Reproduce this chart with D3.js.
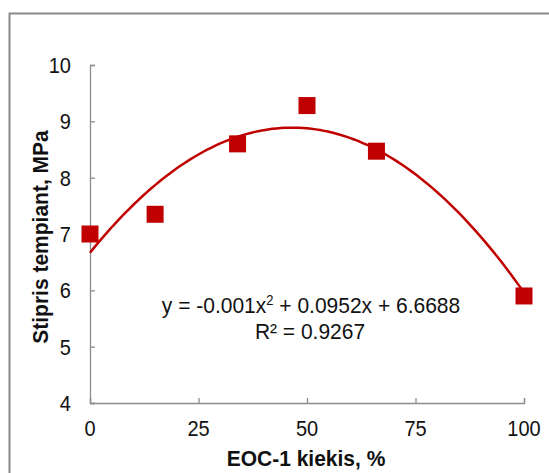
<!DOCTYPE html>
<html><head><meta charset="utf-8">
<script src="https://cdn.jsdelivr.net/npm/d3@7"></script>
<style>body{margin:0;background:#fff}svg{display:block}text{font-family:"Liberation Sans",Arial,sans-serif}</style>
</head><body><svg id="c" width="549" height="473"></svg>
<script>
const xValues = [0, 15, 34, 50, 66, 100];
const yValues = [7.0, 7.35, 8.6, 9.28, 8.47, 5.9];
const xTicks = [0, 25, 50, 75, 100];
const yTicks = [4, 5, 6, 7, 8, 9, 10];
const xTitle = "EOC-1 kiekis, %";
const yTitle = "Stipris tempiant, MPa";
const eqText = ["y = -0.001x", "2", " + 0.0952x + 6.6688"];
const r2Text = "R² = 0.9267";

const svg = d3.select("#c");
const x = d3.scaleLinear().domain([0, 100]).range([90, 524]);
const y = d3.scaleLinear().domain([4, 10]).range([403, 65]);
const axisCol = "#8c8c8c", red = "#c00000";
const SY = 1.06;

function txt(px, py, str, size, anchor, bold, rot) {
  return svg.append("text")
    .attr("transform", `translate(${px},${py})` + (rot ? ` rotate(${rot})` : "") + ` scale(1,${SY})`)
    .attr("text-anchor", anchor).attr("font-size", size)
    .attr("font-weight", bold ? "bold" : "normal").attr("fill", "#111").text(str);
}

svg.append("rect").attr("x", 9.5).attr("y", 13.5).attr("width", 560).attr("height", 480)
  .attr("fill", "none").attr("stroke", "#8a8a8a").attr("stroke-width", 2);

const yAxis = svg.append("g").attr("transform", `translate(${x(0)},0)`)
  .call(d3.axisRight(y).tickValues(yTicks).tickSize(5).tickFormat(""));
const xAxis = svg.append("g").attr("transform", `translate(0,${y(4)})`)
  .call(d3.axisTop(x).tickValues(xTicks).tickSize(5).tickFormat(""));
[yAxis, xAxis].forEach(g => { g.selectAll("path,line").attr("stroke", axisCol).attr("stroke-width", 1.3); });

yTicks.forEach(d => txt(71, y(d) + 8, d, 20, "end"));
xTicks.forEach(d => txt(x(d), 436, d, 20, "middle"));

txt(306, 466, xTitle, 21, "middle", true);
txt(48, 237, yTitle, 21, "middle", true, -90);

function polyfit(xs, ys) {
  const n = xs.length; let S = [0,0,0,0,0], T = [0,0,0];
  for (let i = 0; i < n; i++) { let p = 1; for (let k = 0; k < 5; k++) { S[k] += p; if (k < 3) T[k] += p * ys[i]; p *= xs[i]; } }
  const M = [[S[0],S[1],S[2],T[0]],[S[1],S[2],S[3],T[1]],[S[2],S[3],S[4],T[2]]];
  for (let i = 0; i < 3; i++) { for (let j = i + 1; j < 3; j++) { const f = M[j][i] / M[i][i]; for (let k = i; k < 4; k++) M[j][k] -= f * M[i][k]; } }
  const c = [0,0,0];
  for (let i = 2; i >= 0; i--) { let s = M[i][3]; for (let k = i + 1; k < 3; k++) s -= M[i][k] * c[k]; c[i] = s / M[i][i]; }
  return c;
}
const coef = polyfit(xValues, yValues);
const fitPts = d3.range(0, 100.5, 1).map(v => [v, coef[0] + coef[1] * v + coef[2] * v * v]);
svg.append("path").datum(fitPts)
  .attr("d", d3.line().x(d => x(d[0])).y(d => y(d[1])))
  .attr("fill", "none").attr("stroke", red).attr("stroke-width", 2.5);

const s = 17;
svg.selectAll(".pt").data(xValues).enter().append("rect")
  .attr("x", (d) => x(d) - s / 2).attr("y", (d, i) => y(yValues[i]) - s / 2)
  .attr("width", s).attr("height", s).attr("fill", red);

const eq = txt(311, 313, "", 21, "middle");
eq.append("tspan").text(eqText[0]);
eq.append("tspan").attr("dy", -8).attr("font-size", 13).text(eqText[1]);
eq.append("tspan").attr("dy", 8).text(eqText[2]);
txt(310, 339, r2Text, 21, "middle");
</script></body></html>
